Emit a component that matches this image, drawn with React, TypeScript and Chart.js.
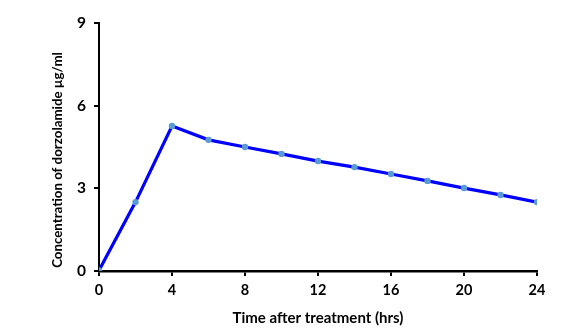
import React, { useEffect, useRef } from "react";
import { Chart, registerables } from "chart.js";

Chart.register(...registerables);

const timeHours = [0, 2, 4, 6, 8, 10, 12, 14, 16, 18, 20, 22, 24];
const concentration = [0.02, 2.5, 5.26, 4.76, 4.5, 4.25, 3.99, 3.77, 3.52, 3.27, 3.01, 2.76, 2.5];
const xTitle = "Time after treatment (hrs)";
const yTitle = "Concentration of dorzolamide µg/ml";

const FONT = "Lato, 'Open Sans', sans-serif";

const yTitlePlugin = {
  id: "yTitlePlugin",
  afterDraw(chart: any) {
    const ctx = chart.ctx;
    ctx.save();
    ctx.translate(58, 160);
    ctx.rotate(-Math.PI / 2);
    ctx.font = `bold 13.3px ${FONT}`;
    ctx.fillStyle = "#000";
    ctx.textAlign = "center";
    ctx.textBaseline = "middle";
    ctx.fillText(yTitle, 0, 0);
    ctx.restore();
  },
};

export default function App() {
  const ref = useRef<HTMLCanvasElement>(null);
  useEffect(() => {
    if (!ref.current) return;
    const chart = new Chart(ref.current, {
      type: "line",
      data: {
        datasets: [
          {
            data: timeHours.map((t, i) => ({ x: t, y: concentration[i] })),
            borderColor: "#0000FF",
            borderWidth: 3.2,
            pointRadius: 3.2,
            pointBackgroundColor: "#5B9BD5",
            pointBorderColor: "#5B9BD5",
            pointBorderWidth: 0,
            tension: 0,
          },
        ],
      },
      options: {
        animation: false,
        responsive: false,
        layout: { padding: { left: 0, top: 23, right: 30, bottom: 0 } },
        plugins: { legend: { display: false }, tooltip: { enabled: false } },
        scales: {
          x: {
            type: "linear",
            min: 0,
            max: 24,
            ticks: { stepSize: 4, color: "#000", font: { family: FONT, size: 14.5, weight: "bold" }, padding: 6 },
            grid: { drawOnChartArea: false, tickLength: 5, color: "#000", lineWidth: 2 },
            border: { color: "#000", width: 2.5 },
            title: { display: true, text: xTitle, color: "#000", font: { family: FONT, size: 15, weight: "bold" }, padding: { top: 0, bottom: 5 } },
            afterFit: (s: any) => { s.height = 61; },
          },
          y: {
            min: 0,
            max: 9,
            ticks: { stepSize: 3, color: "#000", font: { family: FONT, size: 15.5, weight: "bold" }, padding: 8 },
            grid: { drawOnChartArea: false, tickLength: 5, color: "#000", lineWidth: 2 },
            border: { color: "#000", width: 2 },
            afterFit: (s: any) => { s.width = 99; },
          },
        },
      },
      plugins: [yTitlePlugin],
    } as any);
    return () => chart.destroy();
  }, []);
  return (
    <div style={{ position: "fixed", left: 0, top: 0, width: 567, height: 332, background: "#fff" }}>
      <canvas ref={ref} width={567} height={332} style={{ width: 567, height: 332 }} />
    </div>
  );
}
